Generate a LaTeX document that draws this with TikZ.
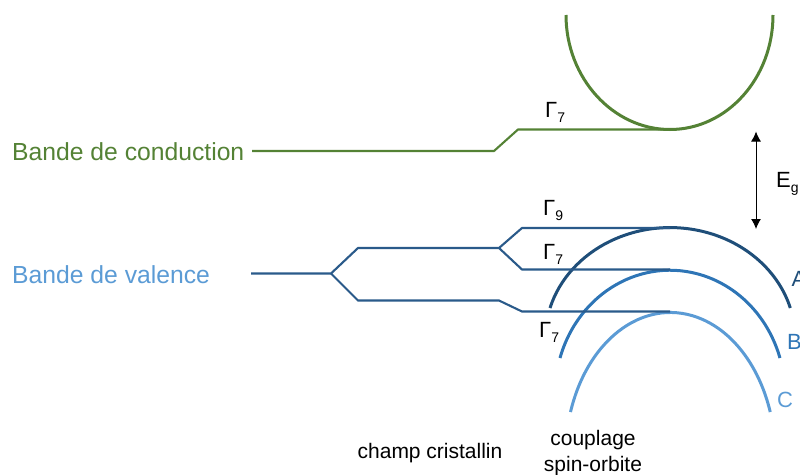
\documentclass[tikz,border=0pt]{standalone}
\usepackage{fontspec}
\setmainfont{Liberation Sans}
\usetikzlibrary{arrows.meta}
\definecolor{greenc}{HTML}{548235}
\definecolor{darkb}{HTML}{1F4E79}
\definecolor{lineb}{HTML}{2A5A8A}
\definecolor{midb}{HTML}{2E75B6}
\definecolor{lightb}{HTML}{5B9BD5}
\tikzset{
  band/.style={line width=2.1pt},
  curve/.style={line width=3pt},
  lbl/.style={inner sep=0pt,anchor=base west,font=\fontsize{24.7}{28}\selectfont},
  letter/.style={inner sep=0pt,anchor=base west,font=\fontsize{22}{26}\selectfont},
  small/.style={inner sep=0pt,anchor=base,font=\fontsize{21}{24}\selectfont,text=black},
  gam/.style={inner sep=0pt,anchor=base west,font=\fontsize{22}{26}\selectfont,text=black},
}
\newcommand{\sbs}[1]{\raisebox{-5pt}{\fontsize{14}{16}\selectfont #1}}
\begin{document}
\begin{tikzpicture}[x=1pt,y=-1pt]
\useasboundingbox (0,0) rectangle (800,474);
% conduction
\draw[greenc,curve] (566,15) .. controls (566,78) and (613,129.5) .. (670,129.5) .. controls (727,129.5) and (773,78) .. (773,15);
\draw[greenc,band] (252,151) -- (494,151) -- (518,129.5) -- (670,129.5);
\node[lbl,text=greenc] (bc) at (12,160) {Bande de conduction};
\node[gam] (g1) at (545,117) {Γ\sbs{7}};
% valence curves
\draw[darkb,curve] (550,308) arc[start angle=164,end angle=16,x radius=125pt,y radius=111pt];
\draw[midb,curve] (560,358) arc[start angle=163,end angle=17,x radius=115pt,y radius=124pt];
\draw[lightb,curve] (570.5,412) arc[start angle=162,end angle=18,x radius=105pt,y radius=144pt];
% valence lines
\draw[lineb,band] (251,273.5) -- (331,273.5) -- (358,248) -- (499,248) -- (522,228) -- (670,228);
\draw[lineb,band] (499,248) -- (522,269.5) -- (670,269.5);
\draw[lineb,band] (331,273.5) -- (358,300.5) -- (499,300.5) -- (522,311.5) -- (670,311.5);
\node[lbl,text=lightb] (bv) at (12,283) {Bande de valence};
\node[gam] (g9) at (543,215) {Γ\sbs{9}};
\node[gam] (g7a) at (543,259) {Γ\sbs{7}};
\node[gam] (g7b) at (539,337) {Γ\sbs{7}};
% labels
\node[letter,text=darkb] (A) at (791.5,286) {A};
\node[letter,text=midb] (B) at (787,349) {B};
\node[letter,text=lightb] (C) at (777,407) {C};
% gap
\coordinate (e1) at (756,131.5);
\coordinate (e2) at (756,229);
\draw[black,line width=1pt,{Latex[length=10pt,width=10pt]}-{Latex[length=10pt,width=10pt]}] (e1) -- (e2);
\node[gam] (eg) at (776,187) {E\sbs{g}};
% bottom
\node[small] (cc) at (430,458) {champ cristallin};
\node[small] (c1) at (593,445) {couplage};
\node[small] (c2) at (593,471) {spin-orbite};
\end{tikzpicture}
\end{document}
